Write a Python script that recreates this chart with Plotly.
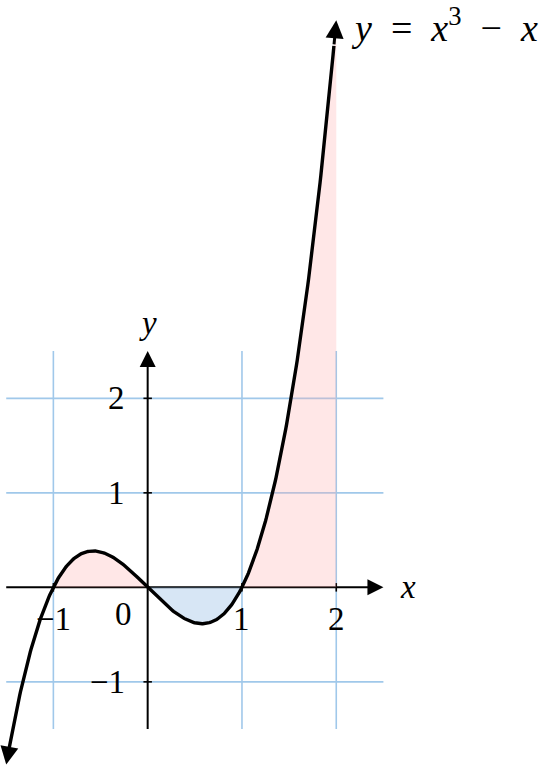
import numpy as np
import plotly.graph_objects as go

# ---- data ----
curve_x_start, curve_x_end = -1.5, 2.0          # domain of y = x^3 - x drawn
axis_lo, axis_hi = -1.5, 2.5                    # extent of axes and grid
grid_x = [-1, 1, 2]
grid_y = [-1, 1, 2]
x_tick_vals = [-1, 1, 2]
x_tick_labels = ["−1", "1", "2"]
y_tick_vals = [-1, 1, 2]
y_tick_labels = ["−1", "1", "2"]
pink_intervals = [(-1, 0), (1, 2)]
blue_intervals = [(0, 1)]


def f(x):
    return x ** 3 - x


FONT = "Liberation Serif"
GRID = "rgb(160,200,234)"
PINK = "rgba(255,175,175,0.30)"
BLUE = "rgba(150,190,230,0.38)"

fig = go.Figure()

# grid
gx, gy = [], []
for v in grid_x:
    gx += [v, v, None]
    gy += [axis_lo, axis_hi, None]
for v in grid_y:
    gx += [axis_lo, axis_hi, None]
    gy += [v, v, None]
fig.add_trace(go.Scatter(x=gx, y=gy, mode="lines",
                         line=dict(color=GRID, width=1.6), hoverinfo="skip"))

# axes
fig.add_trace(go.Scatter(x=[axis_lo, axis_hi - 0.08, None, 0, 0],
                         y=[0, 0, None, axis_lo, axis_hi - 0.08],
                         mode="lines", line=dict(color="black", width=2),
                         hoverinfo="skip"))

# ticks
tl = 0.045
tx, ty = [], []
for v in x_tick_vals:
    tx += [v, v, None]
    ty += [-tl, tl, None]
for v in y_tick_vals:
    tx += [-tl, tl, None]
    ty += [v, v, None]
fig.add_trace(go.Scatter(x=tx, y=ty, mode="lines",
                         line=dict(color="black", width=1.6), hoverinfo="skip"))

# shaded areas
def region(a, b, color):
    xs = np.linspace(a, b, 120)
    px = np.concatenate([[a], xs, [b]])
    py = np.concatenate([[0], f(xs), [0]])
    fig.add_trace(go.Scatter(x=px, y=py, mode="lines", fill="toself",
                             fillcolor=color, line=dict(width=0),
                             hoverinfo="skip"))

for a, b in pink_intervals:
    region(a, b, PINK)
for a, b in blue_intervals:
    region(a, b, BLUE)

# curve
c0, c1 = curve_x_start + 0.03, curve_x_end - 0.025
xs = np.linspace(c0, c1, 400)
fig.add_trace(go.Scatter(x=xs, y=f(xs), mode="lines",
                         line=dict(color="black", width=3.4), hoverinfo="skip"))

ann = []
# arrowheads
def arrow(x, y, ax, ay, w, s):
    ann.append(dict(x=x, y=y, ax=ax, ay=ay, xref="x", yref="y",
                    axref="x", ayref="y", showarrow=True, text="",
                    arrowhead=2, arrowsize=s, arrowwidth=w,
                    arrowcolor="black", standoff=0, startstandoff=0))

arrow(curve_x_end, f(curve_x_end), c1, f(c1), 3, 1.2)
arrow(curve_x_start, f(curve_x_start), c0, f(c0), 3, 1.2)
arrow(axis_hi, 0, axis_hi - 0.12, 0, 2, 1.6)
arrow(0, axis_hi, 0, axis_hi - 0.12, 2, 1.6)

LBL = dict(family=FONT, size=33, color="black")
# tick labels
for v, t in zip(x_tick_vals, x_tick_labels):
    ann.append(dict(x=v, y=-0.33, text=t, showarrow=False, xanchor="center",
                    yanchor="middle", font=LBL))
for v, t in zip(y_tick_vals, y_tick_labels):
    ann.append(dict(x=-0.22, y=v, text=t, showarrow=False, xanchor="right",
                    yanchor="middle", font=LBL))
ann.append(dict(x=-0.26, y=-0.28, text="0", showarrow=False, xanchor="center",
                yanchor="middle", font=LBL))
ann.append(dict(x=2.76, y=0.0, text="<i>x</i>", showarrow=False, xanchor="center",
                yanchor="middle", font=LBL))
ann.append(dict(x=0.0, y=2.8, text="<i>y</i>", showarrow=False, xanchor="center",
                yanchor="middle", font=LBL))
ann.append(dict(x=2.13, y=5.95,
                text="<i>y</i>\u2002=\u2002<i>x</i><sup>3</sup>\u2002−\u2002<i>x</i>",
                showarrow=False, xanchor="left", yanchor="middle",
                font=dict(family=FONT, size=38, color="black")))

fig.update_layout(
    width=544, height=765, margin=dict(l=0, r=0, t=0, b=0),
    paper_bgcolor="white", plot_bgcolor="white", showlegend=False,
    xaxis=dict(range=[-1.566, 4.203], visible=False, fixedrange=True),
    yaxis=dict(range=[-1.880, 6.215], visible=False, fixedrange=True),
    annotations=ann,
)

fig.write_html("out.html", config={"displayModeBar": False},
               post_script="document.body.style.margin='0';")
